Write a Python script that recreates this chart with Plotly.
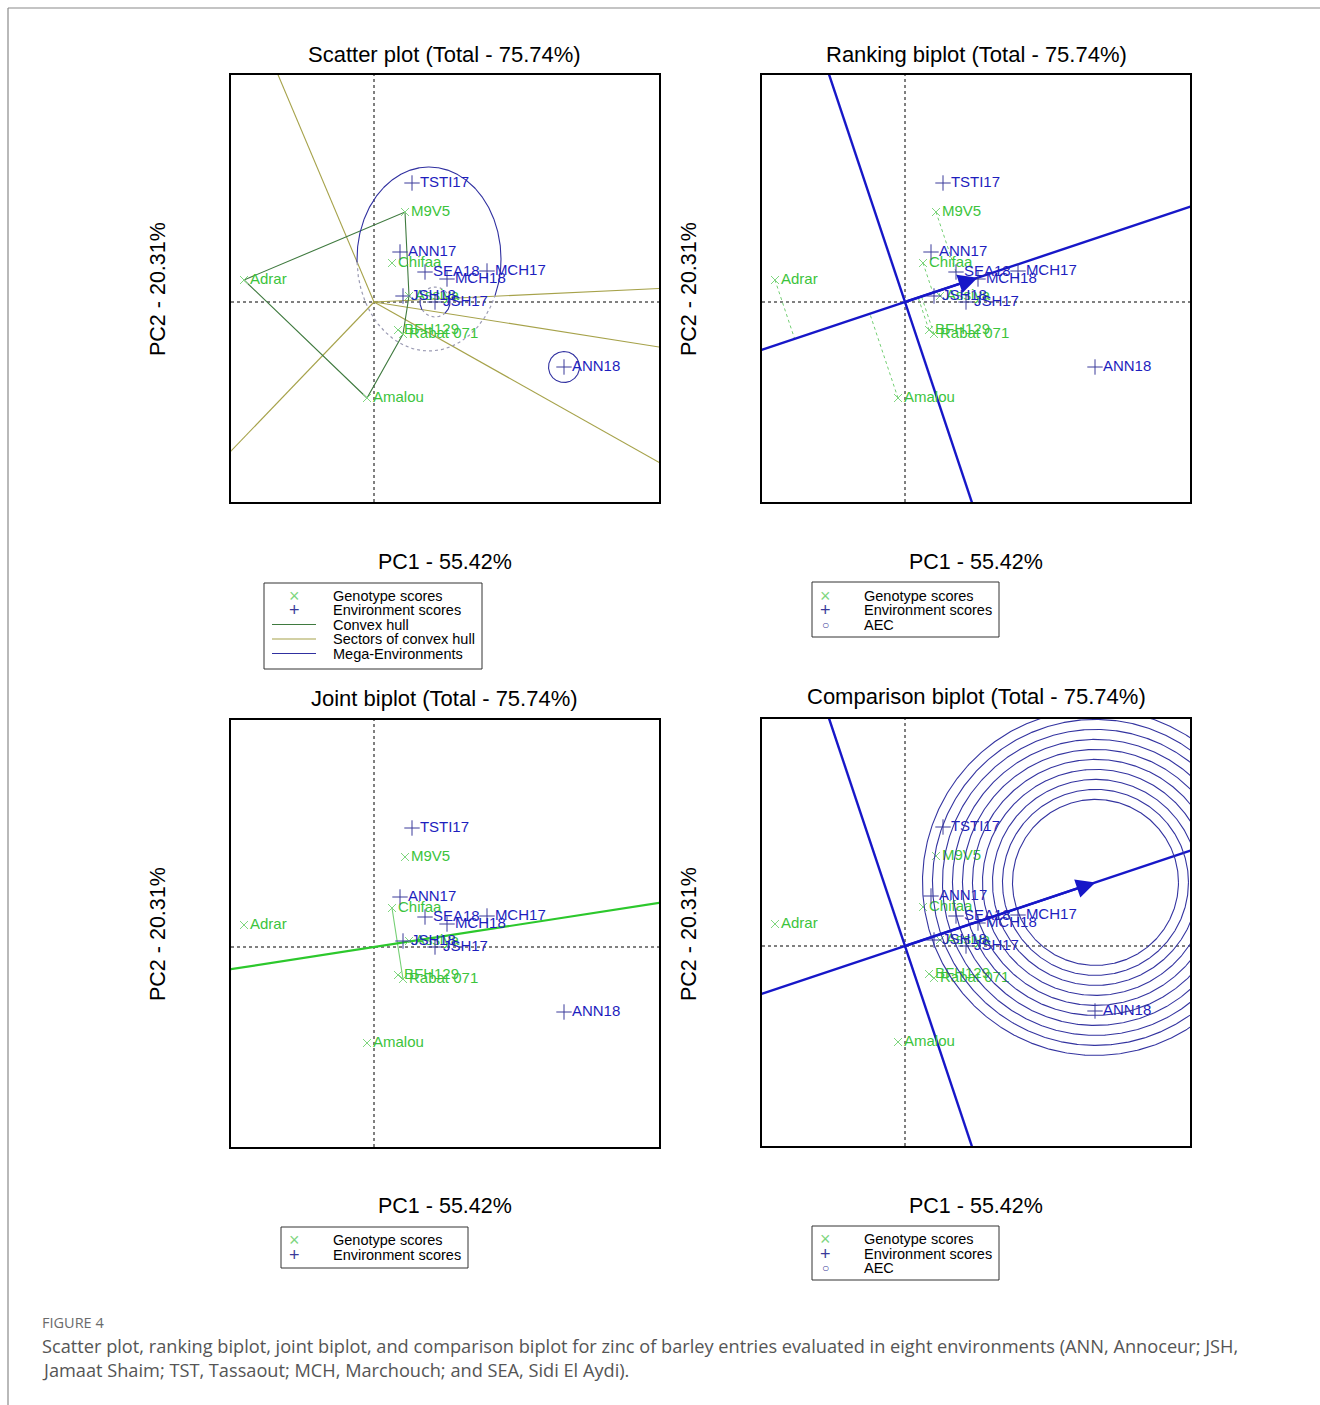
import numpy as np
import plotly.graph_objects as go

# ---------------- data ----------------
genotypes = ["Adrar", "M9V5", "Chifaa", "Assiya", "BFH129", "Rabat 071", "Amalou"]
gen_pc1 = [-1.30, 0.31, 0.18, 0.35, 0.24, 0.29, -0.07]
gen_pc2 = [0.22, 0.90, 0.39, 0.06, -0.28, -0.32, -0.96]

environments = ["TSTI17", "ANN17", "SEA18", "MCH17", "MCH18", "JSH18", "JSH17", "ANN18"]
env_pc1 = [0.38, 0.26, 0.51, 1.13, 0.73, 0.29, 0.61, 1.90]
env_pc2 = [1.19, 0.50, 0.30, 0.31, 0.23, 0.06, 0.00, -0.65]

# mega-environment outlines (centre x, centre y, radius x, radius y)
mega_cx = [0.55, 0.61, 1.90]
mega_cy = [0.43, 0.00, -0.65]
mega_rx = [0.72, 0.15, 0.155]
mega_ry = [0.92, 0.15, 0.155]

compare_pair = ["Chifaa", "Rabat 071"]
ring_radii = [0.83, 0.93, 1.03, 1.13, 1.23, 1.33, 1.43, 1.53, 1.63, 1.73]

panel_titles = ["Scatter plot (Total - 75.74%)", "Ranking biplot (Total - 75.74%)",
                "Joint biplot (Total - 75.74%)", "Comparison biplot (Total - 75.74%)"]
pc1_label = "PC1 - 55.42%"
pc2_label = "PC2 - 20.31%"
caption_head = "FIGURE 4"
caption_lines = [
    "Scatter plot, ranking biplot, joint biplot, and comparison biplot for zinc of barley entries evaluated in eight environments (ANN, Annoceur; JSH,",
    "Jamaat Shaim; TST, Tassaout; MCH, Marchouch; and SEA, Sidi El Aydi).",
]

X_RANGE = [-1.43, 2.85]
Y_RANGE = [-2.00, 2.27]

# ---------------- styles ----------------
W, H = 1320, 1405
FONT = "Liberation Sans, Arial, sans-serif"
GEN_TXT = "#3cc43c"
GEN_MK = "#7fd67f"
ENV_TXT = "#1e1ebe"
ENV_MK = "#3a3a9a"
HULL_C = "#3f7a3f"
SECT_C = "#a6a24a"
MEGA_C = "#3030a0"
MEGA_DOT = "#9c9cb4"
AXIS_BLUE = "#1717c8"
JOINT_GREEN = "#2cc82c"
PROJ_GREEN = "#74cf74"
RING_C = "#3434a0"
LABEL_SIZE = 15

gx = np.array(gen_pc1); gy = np.array(gen_pc2)
ex = np.array(env_pc1); ey = np.array(env_pc2)

fig = go.Figure()

boxes = {  # pixel boxes of the four plot areas: left, right, top, bottom
    1: (231, 659, 75, 502),
    2: (762, 1190, 75, 502),
    3: (231, 659, 720, 1147),
    4: (762, 1190, 719, 1146),
}


def px(x):
    return x / W


def py(y):
    return 1 - y / H


for i, (l, r, t, b) in boxes.items():
    sfx = "" if i == 1 else str(i)
    common = dict(showline=True, mirror=True, linecolor="black", linewidth=1.6,
                  showgrid=False, zeroline=False, showticklabels=False, ticks="",
                  fixedrange=True)
    fig.layout["xaxis" + sfx] = dict(domain=[px(l), px(r)], range=X_RANGE,
                                     anchor="y" + sfx, **common)
    fig.layout["yaxis" + sfx] = dict(domain=[py(b), py(t)], range=Y_RANGE,
                                     anchor="x" + sfx, **common)


def ax(i):
    s = "" if i == 1 else str(i)
    return dict(xaxis="x" + s, yaxis="y" + s)


def add_line(i, xs, ys, color, width=1, dash="solid"):
    fig.add_trace(go.Scatter(x=xs, y=ys, mode="lines", hoverinfo="skip",
                             line=dict(color=color, width=width, dash=dash),
                             showlegend=False, **ax(i)))


def add_zero_lines(i):
    add_line(i, [X_RANGE[0], X_RANGE[1]], [0, 0], "black", 1, "dot")
    add_line(i, [0, 0], [Y_RANGE[0], Y_RANGE[1]], "black", 1, "dot")


def add_points(i):
    fig.add_trace(go.Scatter(
        x=gen_pc1, y=gen_pc2, text=genotypes, mode="markers+text",
        textposition="middle right", cliponaxis=False,
        textfont=dict(family=FONT, size=LABEL_SIZE, color=GEN_TXT),
        marker=dict(symbol="x-thin", size=8, line=dict(width=1, color=GEN_MK)),
        showlegend=False, hoverinfo="text", **ax(i)))
    fig.add_trace(go.Scatter(
        x=env_pc1, y=env_pc2, text=environments, mode="markers+text",
        textposition="middle right", cliponaxis=False,
        textfont=dict(family=FONT, size=LABEL_SIZE, color=ENV_TXT),
        marker=dict(symbol="cross-thin", size=11, line=dict(width=1, color=ENV_MK)),
        showlegend=False, hoverinfo="text", **ax(i)))


def convex_hull(xs, ys):
    pts = sorted(zip(xs, ys))

    def cross(o, a, b):
        return (a[0] - o[0]) * (b[1] - o[1]) - (a[1] - o[1]) * (b[0] - o[0])
    lower, upper = [], []
    for p in pts:
        while len(lower) >= 2 and cross(lower[-2], lower[-1], p) <= 0:
            lower.pop()
        lower.append(p)
    for p in reversed(pts):
        while len(upper) >= 2 and cross(upper[-2], upper[-1], p) <= 0:
            upper.pop()
        upper.append(p)
    return lower[:-1] + upper[:-1]  # counter-clockwise


FAR = 20.0

# ---------------- panel 1: which-won-where ----------------
add_zero_lines(1)
hull = convex_hull(gen_pc1, gen_pc2)
hv = np.array(hull)
n = len(hull)
for k in range(n):
    a = hv[k]; b = hv[(k + 1) % n]
    d = b - a
    nrm = np.array([d[1], -d[0]])
    nrm = nrm / np.hypot(*nrm)
    add_line(1, [0, FAR * nrm[0]], [0, FAR * nrm[1]], SECT_C, 1.1)
add_line(1, list(hv[:, 0]) + [hv[0, 0]], list(hv[:, 1]) + [hv[0, 1]], HULL_C, 1.1)


def winner(x, y):
    return np.argmax(hv[:, 0] * x + hv[:, 1] * y)


theta = np.linspace(0, 2 * np.pi, 721)
for cx, cy, rx, ry in zip(mega_cx, mega_cy, mega_rx, mega_ry):
    xs = cx + rx * np.cos(theta)
    ys = cy + ry * np.sin(theta)
    w0 = winner(cx, cy)
    inside = np.array([winner(x, y) == w0 for x, y in zip(xs, ys)])
    sx, sy, dx_, dy_ = [], [], [], []
    for j in range(len(xs)):
        prev_in = inside[j - 1] if j > 0 else inside[j]
        if inside[j] or prev_in:
            sx.append(xs[j]); sy.append(ys[j])
        else:
            sx.append(None); sy.append(None)
        if (not inside[j]) or (not prev_in):
            dx_.append(xs[j]); dy_.append(ys[j])
        else:
            dx_.append(None); dy_.append(None)
    add_line(1, dx_, dy_, MEGA_DOT, 1.2, "dot")
    add_line(1, sx, sy, MEGA_C, 1.1)
add_points(1)

# ---------------- average environment axis ----------------
mean_env = np.array([ex.mean(), ey.mean()])
u = mean_env / np.hypot(*mean_env)
perp = np.array([-u[1], u[0]])

# ---------------- panel 2: ranking ----------------
add_zero_lines(2)
for g0, g1 in zip(gen_pc1, gen_pc2):
    t = g0 * u[0] + g1 * u[1]
    add_line(2, [g0, t * u[0]], [g1, t * u[1]], PROJ_GREEN, 1, "dot")
add_line(2, [-FAR * u[0], FAR * u[0]], [-FAR * u[1], FAR * u[1]], AXIS_BLUE, 2.4)
add_line(2, [-FAR * perp[0], FAR * perp[0]], [-FAR * perp[1], FAR * perp[1]], AXIS_BLUE, 2.4)
add_points(2)
fig.add_annotation(x=mean_env[0], y=mean_env[1], ax=0, ay=0, xref="x2", yref="y2",
                   axref="x2", ayref="y2", showarrow=True, arrowhead=2, arrowsize=1.6,
                   arrowwidth=2.4, arrowcolor=AXIS_BLUE, text="")

# ---------------- panel 3: joint (compare two genotypes) ----------------
add_zero_lines(3)
ia = genotypes.index(compare_pair[0]); ib = genotypes.index(compare_pair[1])
pa = np.array([gen_pc1[ia], gen_pc2[ia]]); pb = np.array([gen_pc1[ib], gen_pc2[ib]])
dd = pb - pa
pn = np.array([-dd[1], dd[0]]); pn = pn / np.hypot(*pn)
add_line(3, [pa[0], pb[0]], [pa[1], pb[1]], PROJ_GREEN, 1.1)
add_line(3, [-FAR * pn[0], FAR * pn[0]], [-FAR * pn[1], FAR * pn[1]], JOINT_GREEN, 2.2)
add_points(3)

# ---------------- panel 4: comparison with the ideal ----------------
add_zero_lines(4)
ideal = u * np.max(np.hypot(ex, ey))
add_line(4, [-FAR * u[0], FAR * u[0]], [-FAR * u[1], FAR * u[1]], AXIS_BLUE, 2.4)
add_line(4, [-FAR * perp[0], FAR * perp[0]], [-FAR * perp[1], FAR * perp[1]], AXIS_BLUE, 2.4)
add_points(4)
for rr in ring_radii:
    add_line(4, list(ideal[0] + rr * np.cos(theta)), list(ideal[1] + rr * np.sin(theta)), RING_C, 1.1)
fig.add_annotation(x=ideal[0], y=ideal[1], ax=0, ay=0, xref="x4", yref="y4",
                   axref="x4", ayref="y4", showarrow=True, arrowhead=2, arrowsize=1.6,
                   arrowwidth=2.4, arrowcolor=AXIS_BLUE, text="")

# ---------------- titles / axis labels ----------------
title_pos = [(445, 54), (976, 54), (445, 698), (976, 697)]
xlab_pos = [(445, 562), (976, 562), (445, 1206), (976, 1206)]
ylab_pos = [(158, 289), (689, 289), (158, 934), (689, 934)]
for k in range(4):
    fig.add_annotation(x=px(title_pos[k][0]), y=py(title_pos[k][1]), xref="paper", yref="paper",
                       text=panel_titles[k], showarrow=False, xanchor="center", yanchor="middle",
                       font=dict(family=FONT, size=22, color="black"))
    fig.add_annotation(x=px(xlab_pos[k][0]), y=py(xlab_pos[k][1]), xref="paper", yref="paper",
                       text=pc1_label, showarrow=False, xanchor="center", yanchor="middle",
                       font=dict(family=FONT, size=21.5, color="black"))
    fig.add_annotation(x=px(ylab_pos[k][0]), y=py(ylab_pos[k][1]), xref="paper", yref="paper",
                       text=pc2_label, showarrow=False, xanchor="center", yanchor="middle",
                       textangle=-90, font=dict(family=FONT, size=21.5, color="black"))

# ---------------- legends (drawn) ----------------
legend_specs = [
    dict(box=(264, 482, 583, 669), sx=294, tx=331, rows=[595.5, 610, 624.5, 639, 653.5],
         items=[("x", "Genotype scores"), ("plus", "Environment scores"),
                ("line:" + HULL_C, "Convex hull"), ("line:" + SECT_C, "Sectors of convex hull"),
                ("line:" + MEGA_C, "Mega-Environments")]),
    dict(box=(812, 999, 582, 637), sx=825, tx=862, rows=[595.5, 610, 624.5],
         items=[("x", "Genotype scores"), ("plus", "Environment scores"), ("circle", "AEC")]),
    dict(box=(281, 468, 1227, 1268), sx=294, tx=331, rows=[1240, 1254.5],
         items=[("x", "Genotype scores"), ("plus", "Environment scores")]),
    dict(box=(812, 999, 1226, 1280), sx=825, tx=862, rows=[1239, 1253.5, 1268],
         items=[("x", "Genotype scores"), ("plus", "Environment scores"), ("circle", "AEC")]),
]
shapes = []
for spec in legend_specs:
    l, r, t, b = spec["box"]
    shapes.append(dict(type="rect", xref="paper", yref="paper", x0=px(l), x1=px(r),
                       y0=py(b), y1=py(t), line=dict(color="#333333", width=1),
                       fillcolor="white", layer="below"))
    for (kind, label), yy in zip(spec["items"], spec["rows"]):
        if kind.startswith("line:"):
            shapes.append(dict(type="line", xref="paper", yref="paper",
                               x0=px(spec["sx"] - 22), x1=px(spec["sx"] + 22),
                               y0=py(yy), y1=py(yy), line=dict(color=kind[5:], width=1.1)))
        else:
            sym, col, sz = {"x": ("×", GEN_MK, 18), "plus": ("+", ENV_MK, 18),
                            "circle": ("○", ENV_MK, 12)}[kind]
            fig.add_annotation(x=px(spec["sx"]), y=py(yy), xref="paper", yref="paper",
                               text=sym, showarrow=False, xanchor="center", yanchor="middle",
                               font=dict(family=FONT, size=sz, color=col))
        fig.add_annotation(x=px(spec["tx"]), y=py(yy), xref="paper", yref="paper",
                           text=label, showarrow=False, xanchor="left", yanchor="middle",
                           font=dict(family=FONT, size=14.5, color="black"))

# page frame
shapes.append(dict(type="line", xref="paper", yref="paper", x0=px(8), x1=1, y0=py(8), y1=py(8),
                   line=dict(color="#8a8a8a", width=1.2)))
shapes.append(dict(type="line", xref="paper", yref="paper", x0=px(8), x1=px(8), y0=0, y1=py(8),
                   line=dict(color="#8a8a8a", width=1.2)))

# caption
CAP_FONT = "Open Sans, Noto Sans, sans-serif"
fig.add_annotation(x=px(40), y=py(1322), xref="paper", yref="paper", text=caption_head,
                   showarrow=False, xanchor="left", yanchor="middle",
                   font=dict(family=CAP_FONT, size=14.5, color="#6b6b6b"))
for k, line in enumerate(caption_lines):
    fig.add_annotation(x=px(40), y=py(1346 + 24 * k), xref="paper", yref="paper", text=line,
                       showarrow=False, xanchor="left", yanchor="middle",
                       font=dict(family=CAP_FONT, size=18.2, color="#555555"))

fig.update_layout(width=W, height=H, margin=dict(l=0, r=0, t=0, b=0),
                  paper_bgcolor="white", plot_bgcolor="white", shapes=shapes,
                  showlegend=False)

fig.write_html("out.html", config={"displayModeBar": False},
               post_script="document.body.style.margin='0px';document.body.style.overflow='hidden';")
